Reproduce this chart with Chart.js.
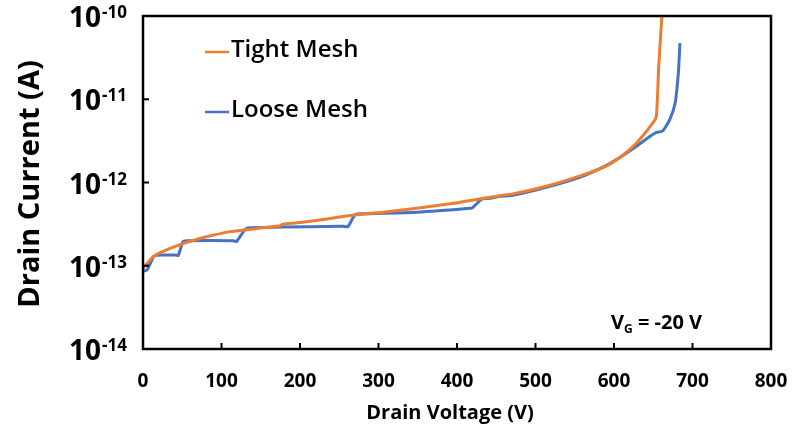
<!DOCTYPE html>
<html>
<head>
<meta charset="utf-8">
<script src="https://cdn.jsdelivr.net/npm/chart.js@4.4.0/dist/chart.umd.min.js"></script>
<style>
  html, body { margin: 0; padding: 0; background: #fff; overflow: hidden; }
  canvas { display: block; }
</style>
</head>
<body>
<canvas id="ivChart" width="792" height="435"></canvas>
<script>
// drain voltage (V) and drain current (A)
const tightV = [0, 13, 25, 47, 68, 89, 111, 132, 153, 175, 178, 196, 221, 264, 306, 349, 391, 425, 455, 471, 515, 557, 590, 616, 633, 650, 654, 657, 661];
const tightI = [9.3e-14, 1.29e-13, 1.48e-13, 1.79e-13, 2.07e-13, 2.32e-13, 2.57e-13, 2.71e-13, 2.86e-13, 3.02e-13, 3.16e-13, 3.28e-13, 3.5e-13, 4.02e-13, 4.4e-13, 4.92e-13, 5.54e-13, 6.24e-13, 6.95e-13, 7.3e-13, 9.08e-13, 1.2e-12, 1.57e-12, 2.31e-12, 3.31e-12, 5.27e-12, 6.28e-12, 2.5e-11, 1e-10];

const looseV = [0, 5, 13, 17, 43, 45, 51, 56, 115, 119, 130, 136, 255, 261, 270, 276, 349, 417, 420, 432, 442, 455, 471, 515, 557, 586, 608, 629, 646, 654, 662, 671, 678, 682, 684];
const looseI = [8.6e-14, 8.85e-14, 1.26e-13, 1.34e-13, 1.34e-13, 1.33e-13, 1.95e-13, 2.0e-13, 2.0e-13, 1.95e-13, 2.73e-13, 2.86e-13, 2.98e-13, 2.95e-13, 4.09e-13, 4.2e-13, 4.4e-13, 4.9e-13, 5.0e-13, 6.35e-13, 6.45e-13, 6.84e-13, 7.0e-13, 8.8e-13, 1.16e-12, 1.53e-12, 2.01e-12, 2.75e-12, 3.59e-12, 4.0e-12, 4.16e-12, 5.7e-12, 9.1e-12, 2.09e-11, 4.72e-11];

const seriesNames = ['Tight Mesh', 'Loose Mesh'];
const seriesColors = ['#ED7D31', '#4472C4'];
const yDecades = [1e-10, 1e-11, 1e-12, 1e-13, 1e-14];
const yExponents = ['-10', '-11', '-12', '-13', '-14'];

const FONT = '"Open Sans", "Liberation Sans", sans-serif';

function pairUp(xs, ys) {
    return xs.map((v, i) => ({ x: v, y: ys[i] }));
}

// frame, inward ticks, y labels with exponents, titles, legend and note
const decorations = {
    id: 'decorations',
    afterDraw(chart) {
        const ctx = chart.ctx;
        const a = chart.chartArea;
        const xs = chart.scales.x;
        const ys = chart.scales.y;
        ctx.save();
        ctx.strokeStyle = '#000';
        ctx.lineWidth = 2.5;
        ctx.strokeRect(a.left, a.top, a.right - a.left, a.bottom - a.top);

        ctx.lineWidth = 2;
        ctx.beginPath();
        for (let v = 100; v < 800; v += 100) {
            const px = xs.getPixelForValue(v);
            ctx.moveTo(px, a.bottom);
            ctx.lineTo(px, a.bottom - 6);
        }
        yDecades.forEach(d => {
            const py = ys.getPixelForValue(d);
            ctx.moveTo(a.left, py);
            ctx.lineTo(a.left + 6, py);
        });
        ctx.stroke();

        // y tick labels: 10 with superscript exponent
        ctx.fillStyle = '#000';
        ctx.textBaseline = 'alphabetic';
        yDecades.forEach((d, i) => {
            const py = ys.getPixelForValue(d);
            ctx.font = 'bold 17px ' + FONT;
            ctx.textAlign = 'left';
            const expW = ctx.measureText(yExponents[i]).width;
            const expX = 127 - expW;
            ctx.fillText(yExponents[i], expX, py + 2);
            ctx.font = 'bold 28px ' + FONT;
            ctx.textAlign = 'right';
            ctx.fillText('10', expX - 1, py + 11);
        });

        // y title
        ctx.save();
        ctx.translate(31, 184);
        ctx.rotate(-Math.PI / 2);
        ctx.font = 'bold 29px ' + FONT;
        ctx.textAlign = 'center';
        ctx.textBaseline = 'middle';
        ctx.fillText('Drain Current (A)', 0, 0);
        ctx.restore();

        // x title
        ctx.font = 'bold 20px ' + FONT;
        ctx.textAlign = 'center';
        ctx.textBaseline = 'middle';
        ctx.fillText('Drain Voltage (V)', (a.left + a.right) / 2 - 7, 413);

        // legend
        const legY = [52, 112];
        ctx.font = '600 24px ' + FONT;
        ctx.textAlign = 'left';
        ctx.textBaseline = 'middle';
        seriesNames.forEach((name, i) => {
            ctx.strokeStyle = seriesColors[i];
            ctx.lineWidth = 2.5;
            ctx.beginPath();
            ctx.moveTo(205, legY[i]);
            ctx.lineTo(229, legY[i]);
            ctx.stroke();
            ctx.fillStyle = '#000';
            ctx.fillText(name, 231, legY[i] - 2);
        });

        // gate voltage note
        ctx.textBaseline = 'alphabetic';
        ctx.font = 'bold 20px ' + FONT;
        ctx.fillText('V', 611, 329);
        const w = ctx.measureText('V').width;
        ctx.font = 'bold 12px ' + FONT;
        ctx.fillText('G', 611 + w, 333);
        const gw = ctx.measureText('G').width;
        ctx.font = 'bold 20px ' + FONT;
        ctx.fillText(' = -20 V', 611 + w + gw, 329);
        ctx.restore();
    }
};

const ivConfig = {
    type: 'line',
    data: {
        datasets: [
            {
                label: seriesNames[0],
                data: pairUp(tightV, tightI),
                borderColor: seriesColors[0],
                borderWidth: 3,
                pointRadius: 0,
                tension: 0.2,
                fill: false
            },
            {
                label: seriesNames[1],
                data: pairUp(looseV, looseI),
                borderColor: seriesColors[1],
                borderWidth: 3,
                pointRadius: 0,
                tension: 0.2,
                fill: false
            }
        ]
    },
    options: {
        responsive: false,
        animation: false,
        layout: {
            padding: { left: 143, top: 16, right: 21, bottom: 21 }
        },
        scales: {
            x: {
                type: 'linear',
                min: 0,
                max: 800,
                grid: { display: false, drawTicks: false },
                border: { display: false },
                ticks: {
                    stepSize: 100,
                    padding: 23,
                    color: '#000',
                    font: { family: FONT, size: 19, weight: 'bold', lineHeight: 1 }
                },
                // end labels may hang over the plot edges
                afterFit(scale) {
                    scale.paddingLeft = 0;
                    scale.paddingRight = 0;
                }
            },
            y: {
                type: 'logarithmic',
                min: 1e-14,
                max: 1e-10,
                display: false
            }
        },
        plugins: {
            legend: { display: false },
            tooltip: { enabled: false }
        }
    },
    plugins: [decorations]
};

const ivCanvas = document.getElementById('ivChart');
const ivChart = new Chart(ivCanvas, ivConfig);
</script>
</body>
</html>
